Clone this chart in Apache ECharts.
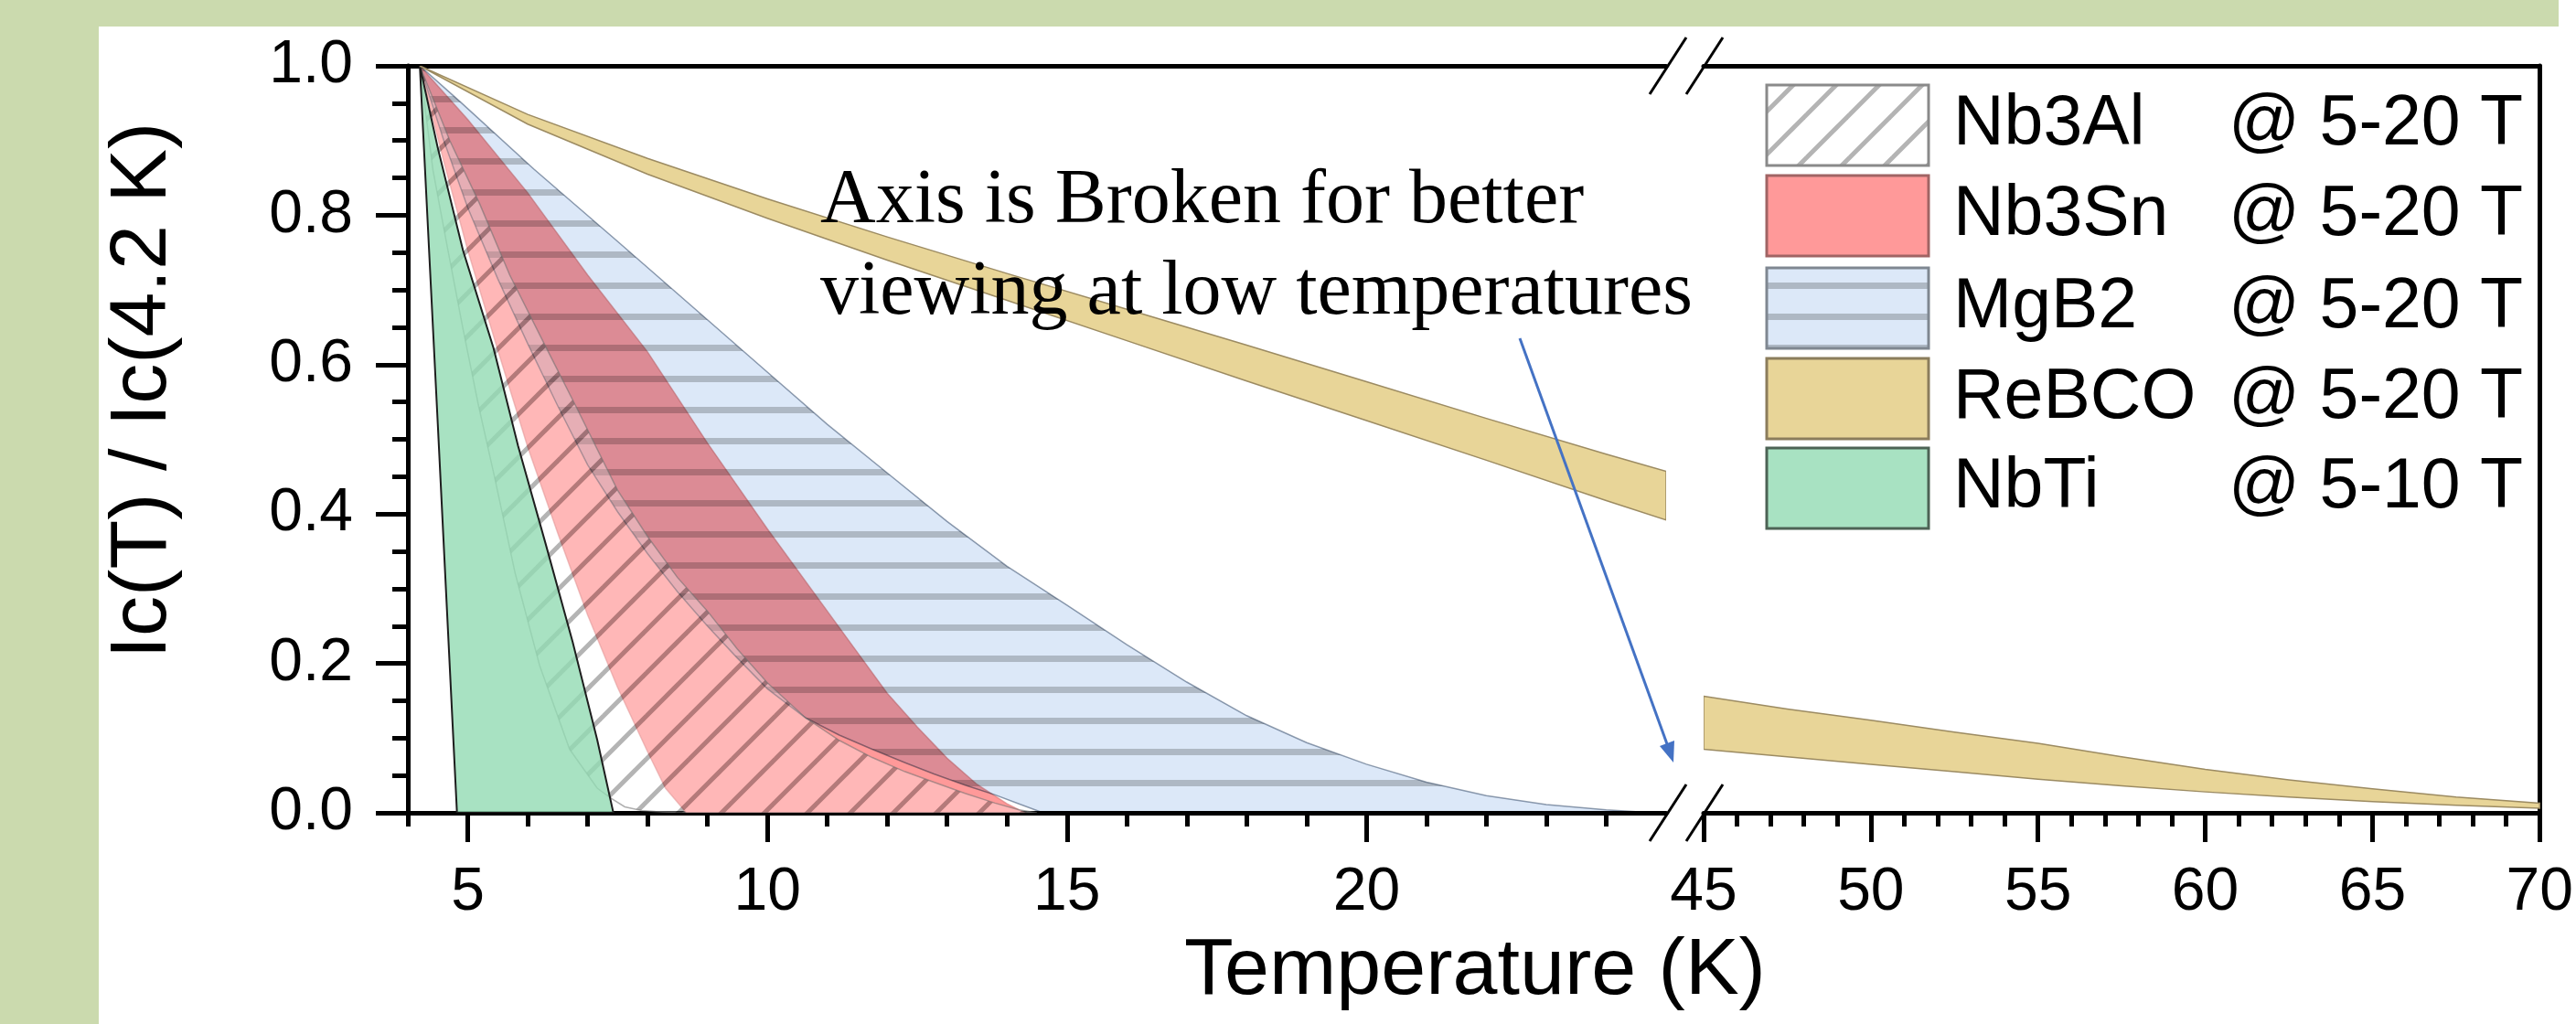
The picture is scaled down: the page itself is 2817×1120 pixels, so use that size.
<!DOCTYPE html>
<html><head><meta charset="utf-8">
<script src="https://cdn.jsdelivr.net/npm/echarts@6/dist/echarts.min.js"></script>
<style>html,body{margin:0;padding:0;background:#fff;}#c{width:2817px;height:1120px;}</style>
</head><body><div id="c"></div>
<script>
// ---------- data ----------
const majorLeft = [5, 10, 15, 20];
const minorLeft = [4, 6, 7, 8, 9, 11, 12, 13, 14, 16, 17, 18, 19, 21, 22, 23, 24];
const majorRight = [45, 50, 55, 60, 65, 70];
const minorRight = [46, 47, 48, 49, 51, 52, 53, 54, 56, 57, 58, 59, 61, 62, 63, 64, 66, 67, 68, 69];

// NbTi @ 5-10 T
const nbtiUpT = [4.2, 4.5, 4.92, 5.43, 5.84, 6.3, 6.75, 7.16, 7.43];
const nbtiUp  = [1, 0.89, 0.753, 0.622, 0.491, 0.36, 0.229, 0.098, 0];
const nbtiLoT = [4.2, 4.5, 4.82];
const nbtiLo  = [1, 0.52, 0];

// Nb3Al @ 5-20 T
const alUpT = [4.2, 4.7, 5.2, 5.7, 6.3, 6.8, 7.5, 8.0, 8.5, 9.0, 9.5, 10.0, 10.64, 11.2, 11.75, 12.3, 12.78, 13.3, 13.8, 14.2, 14.5];
const alUp  = [1, 0.9, 0.815, 0.72, 0.624, 0.545, 0.432, 0.37, 0.315, 0.27, 0.219, 0.174, 0.127, 0.097, 0.074, 0.055, 0.041, 0.026, 0.013, 0.004, 0];
const alLoT = [4.2, 4.42, 4.67, 4.92, 5.18, 5.44, 5.79, 6.2, 6.7, 7.16, 7.38, 7.62, 7.9, 8.4];
const alLo  = [1, 0.86, 0.753, 0.648, 0.545, 0.452, 0.321, 0.197, 0.085, 0.033, 0.02, 0.008, 0.003, 0];

// Nb3Sn @ 5-20 T
const snUpT = [4.2, 5, 6, 7, 8, 9, 10, 11, 11.5, 12, 12.5, 13, 13.5, 14, 14.3];
const snUp  = [1, 0.928, 0.83, 0.72, 0.617, 0.495, 0.38, 0.27, 0.215, 0.16, 0.115, 0.073, 0.038, 0.012, 0];
const snLoT = [4.2, 4.6, 5.0, 5.5, 6.0, 6.5, 7.0, 7.5, 8.0, 8.3, 8.65];
const snLo  = [1, 0.872, 0.753, 0.62, 0.49, 0.375, 0.265, 0.168, 0.082, 0.033, 0];

// MgB2 @ 5-20 T
const mgUpT = [4.2, 4.9, 6.1, 7.5, 9.0, 10, 11, 12, 13, 14, 15, 16, 17, 18, 19, 20, 21, 22, 23, 24, 24.8];
const mgUp  = [1, 0.95, 0.862, 0.765, 0.66, 0.59, 0.52, 0.455, 0.39, 0.33, 0.278, 0.225, 0.175, 0.13, 0.094, 0.065, 0.041, 0.023, 0.011, 0.004, 0];
const mgLoT = [4.2, 4.6, 5.0, 5.5, 6.0, 6.5, 7.0, 7.5, 8.0, 8.5, 9.0, 9.5, 10.0, 10.64, 11.2, 11.75, 12.3, 12.78, 13.3, 13.8, 14.2, 14.6];
const mgLo  = [1, 0.9, 0.81, 0.715, 0.628, 0.545, 0.466, 0.403, 0.347, 0.296, 0.25, 0.207, 0.166, 0.127, 0.104, 0.085, 0.067, 0.052, 0.037, 0.024, 0.012, 0];

// ReBCO @ 5-20 T (low-T part and high-T part)
const reT    = [4.2, 6, 8, 10, 12, 14, 16, 18, 20, 22, 24, 25];
const reUp   = [1, 0.935, 0.876, 0.822, 0.771, 0.722, 0.674, 0.626, 0.577, 0.528, 0.48, 0.457];
const reLo   = [1, 0.922, 0.855, 0.796, 0.74, 0.686, 0.632, 0.578, 0.525, 0.472, 0.418, 0.392];
const reHiT  = [45, 47.5, 50, 52.5, 55, 57.5, 60, 62.5, 65, 67.5, 70];
const reHiUp = [0.156, 0.139, 0.124, 0.108, 0.093, 0.075, 0.058, 0.044, 0.032, 0.021, 0.013];
const reHiLo = [0.085, 0.075, 0.065, 0.055, 0.045, 0.036, 0.028, 0.021, 0.015, 0.01, 0.006];

const legendNames  = ['Nb3Al', 'Nb3Sn', 'MgB2', 'ReBCO', 'NbTi'];
const legendFields = ['@ 5-20 T', '@ 5-20 T', '@ 5-20 T', '@ 5-20 T', '@ 5-10 T'];
const xTitle = 'Temperature (K)';
const yTitle = 'Ic(T) / Ic(4.2 K)';
const noteLines = ['Axis is Broken for better', 'viewing at low temperatures'];

// ---------- patterns ----------
function hatchCanvas(bg) {
  const s = 47, c = document.createElement('canvas');
  c.width = s; c.height = s;
  const g = c.getContext('2d');
  g.fillStyle = bg; g.fillRect(0, 0, s, s);
  const offs = [-14, 33, 80];
  function lines(style) {
    g.strokeStyle = style; g.lineWidth = 5;
    offs.forEach(function (o) { g.beginPath(); g.moveTo(o + 20, -20); g.lineTo(o - 67, 67); g.stroke(); });
  }
  g.globalCompositeOperation = 'destination-out'; lines('#000');
  g.globalCompositeOperation = 'source-over'; lines('rgba(81,81,81,0.43)');
  return c;
}
function stripeCanvas() {
  const c = document.createElement('canvas');
  c.width = 8; c.height = 34;
  const g = c.getContext('2d');
  g.fillStyle = '#dce8f8'; g.fillRect(0, 0, 8, 34);
  g.fillStyle = '#aeb8c4'; g.fillRect(0, 3, 8, 7);
  return c;
}
const hatchPlot = { image: hatchCanvas('rgba(255,255,255,0.3)'), repeat: 'repeat' };
const hatchLegend = { image: hatchCanvas('#ffffff'), repeat: 'repeat' };
const stripePat = { image: stripeCanvas(), repeat: 'repeat' };

// ---------- band renderer ----------
function band(tag, upT, upV, loT, loV, style) {
  return function (params, api) {
    const pts = [];
    for (let i = 0; i < upT.length; i++) pts.push(api.coord([upT[i], upV[i]]));
    for (let i = loT.length - 1; i >= 0; i--) pts.push(api.coord([loT[i], loV[i]]));
    return { type: 'polygon', name: tag, shape: { points: pts }, style: style };
  };
}
function bandSeries(name, tag, xi, yi, z, upT, upV, loT, loV, style) {
  return { type: 'custom', name: name, xAxisIndex: xi, yAxisIndex: yi, z: z, clip: true,
    data: [[upT[0], upV[0]]], renderItem: band(tag, upT, upV, loT, loV, style) };
}

const FS = 'Liberation Sans, Arial, sans-serif';
const black = { color: '#000', width: 5 };

function xBottomMajor(g, min, max, vals) {
  return { gridIndex: g, type: 'value', min: min, max: max, position: 'bottom',
    axisLine: { show: true, onZero: false, lineStyle: black },
    axisTick: { show: true, customValues: vals, length: 32, lineStyle: black },
    axisLabel: { show: true, customValues: vals, fontSize: 66, fontFamily: FS, color: '#000', margin: 55 },
    splitLine: { show: false } };
}
function xBottomMinor(g, min, max, vals) {
  return { gridIndex: g, type: 'value', min: min, max: max, position: 'bottom',
    axisLine: { show: false, onZero: false },
    axisTick: { show: true, customValues: vals, length: 15, lineStyle: black },
    axisLabel: { show: false }, splitLine: { show: false } };
}
function xTop(g, min, max) {
  return { gridIndex: g, type: 'value', min: min, max: max, position: 'top',
    axisLine: { show: true, onZero: false, lineStyle: black },
    axisTick: { show: false }, axisLabel: { show: false }, splitLine: { show: false } };
}

const chart = echarts.init(document.getElementById('c'), null, { renderer: 'canvas' });

const legendGraphics = [];
const swTop = [93, 192, 293, 392, 490];
const swFill = [hatchLegend, '#ff9999', stripePat, '#e8d598', '#a8e2c2'];
const swStroke = ['#8a8a8a', '#a06464', '#7f8791', '#8b7d5c', '#4d6355'];
for (let i = 0; i < legendNames.length; i++) {
  legendGraphics.push({ type: 'rect', z: 100, shape: { x: 1932, y: swTop[i], width: 177, height: 88 },
    style: { fill: swFill[i], stroke: swStroke[i], lineWidth: 3 } });
  legendGraphics.push({ type: 'text', z: 100, x: 2136, y: swTop[i] + 44,
    style: { text: legendNames[i], font: '77px ' + FS, fill: '#000', verticalAlign: 'middle', align: 'left' } });
  legendGraphics.push({ type: 'text', z: 100, x: 2437, y: swTop[i] + 44,
    style: { text: legendFields[i], font: '77px ' + FS, fill: '#000', verticalAlign: 'middle', align: 'left' } });
}

function slash(cx, cy) {
  return { type: 'line', z: 100, shape: { x1: cx - 20, y1: cy + 31, x2: cx + 20, y2: cy - 31 },
    style: { stroke: '#000', lineWidth: 3 } };
}

const option = {
  animation: false,
  backgroundColor: '#ffffff',
  grid: [
    { left: 446, top: 72, width: 1376, height: 817, show: false },
    { left: 1863, top: 72, width: 915, height: 817, show: false }
  ],
  xAxis: [
    xBottomMajor(0, 4, 25, majorLeft),
    xBottomMinor(0, 4, 25, minorLeft),
    xTop(0, 4, 25),
    xBottomMajor(1, 45, 70, majorRight),
    xBottomMinor(1, 45, 70, minorRight),
    xTop(1, 45, 70)
  ],
  yAxis: [
    { gridIndex: 0, type: 'value', min: 0, max: 1, interval: 0.2, position: 'left',
      axisLine: { show: true, onZero: false, lineStyle: black },
      axisTick: { show: true, length: 35, lineStyle: black },
      minorTick: { show: true, splitNumber: 4, length: 17, lineStyle: black },
      axisLabel: { fontSize: 66, fontFamily: FS, color: '#000', margin: 60, formatter: function (v) { return v.toFixed(1); } },
      splitLine: { show: false }, minorSplitLine: { show: false } },
    { gridIndex: 1, type: 'value', min: 0, max: 1, position: 'right',
      axisLine: { show: true, onZero: false, lineStyle: black },
      axisTick: { show: false }, axisLabel: { show: false }, splitLine: { show: false } }
  ],
  series: [
    bandSeries('Nb3Sn', 'sn', 0, 0, 2, snUpT, snUp, snLoT, snLo,
      { fill: '#ff9999', stroke: 'rgba(215,110,110,0.6)', lineWidth: 1.5 }),
    bandSeries('MgB2', 'mgb2band', 0, 0, 3, mgUpT, mgUp, mgLoT, mgLo,
      { fill: stripePat, stroke: 'rgba(120,135,155,0.8)', lineWidth: 1.5, blend: 'multiply' }),
    bandSeries('Nb3Al', 'al', 0, 0, 4, alUpT, alUp, alLoT, alLo,
      { fill: hatchPlot, stroke: 'rgba(110,110,110,0.55)', lineWidth: 1.5 }),
    bandSeries('NbTi', 'ti', 0, 0, 5, nbtiUpT, nbtiUp, nbtiLoT, nbtiLo,
      { fill: 'rgba(146,219,179,0.8)', stroke: '#1e1e1e', lineWidth: 2 }),
    bandSeries('ReBCO', 're1', 0, 0, 6, reT, reUp, reT, reLo,
      { fill: '#e8d598', stroke: '#9c8b62', lineWidth: 1.5 }),
    bandSeries('ReBCO', 're2', 3, 1, 6, reHiT, reHiUp, reHiT, reHiLo,
      { fill: '#e8d598', stroke: '#9c8b62', lineWidth: 1.5 })
  ],
  graphic: [
    { type: 'rect', z: -10, shape: { x: 0, y: 0, width: 2798, height: 29 }, style: { fill: '#cbdaae' } },
    { type: 'rect', z: -10, shape: { x: 0, y: 0, width: 108, height: 1120 }, style: { fill: '#cbdaae' } },
    { type: 'text', z: 100, x: 157, y: 427, rotation: Math.PI / 2,
      style: { text: yTitle, font: '88px ' + FS, fill: '#000', align: 'center', verticalAlign: 'middle' } },
    { type: 'text', z: 100, x: 1613, y: 1063,
      style: { text: xTitle, font: '88px ' + FS, fill: '#000', align: 'center', verticalAlign: 'middle' } },
    { type: 'text', z: 100, x: 897, y: 221,
      style: { text: noteLines[0], font: '84px Liberation Serif, Times New Roman, serif', fill: '#000', align: 'left', verticalAlign: 'middle' } },
    { type: 'text', z: 100, x: 897, y: 321,
      style: { text: noteLines[1], font: '84px Liberation Serif, Times New Roman, serif', fill: '#000', align: 'left', verticalAlign: 'middle' } },
    { type: 'line', z: 100, shape: { x1: 1662, y1: 370, x2: 1826, y2: 822 }, style: { stroke: '#4472c4', lineWidth: 3 } },
    { type: 'polygon', z: 100, shape: { points: [[1830, 834], [1815, 816], [1831, 810]] }, style: { fill: '#4472c4' } },
    slash(1824, 72), slash(1864, 72), slash(1824, 889), slash(1864, 889)
  ].concat(legendGraphics)
};
chart.setOption(option);

// MgB2 band is laid over Nb3Sn with a multiply blend (overlap turns mauve)
(function () {
  const zr = chart.getZr();
  const list = zr.storage.getDisplayList(true);
  list.forEach(function (el) {
    if (el.name === 'mgb2band' || (el.style && el.style.fill === stripePat)) {
      if (el.style) { el.style.blend = 'multiply'; }
      el.markRedraw && el.markRedraw();
    }
  });
  zr.refreshImmediately();
})();
</script>
</body></html>
